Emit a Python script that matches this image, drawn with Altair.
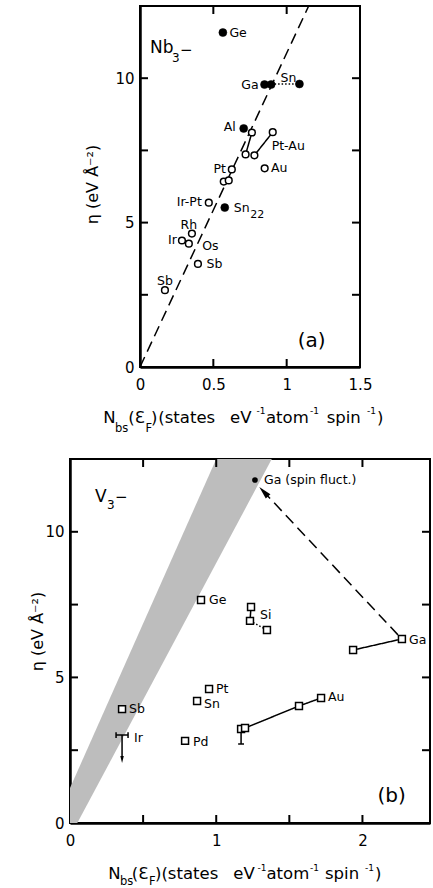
import altair as alt
import pandas as pd

FONT = "DejaVu Sans"
INK = "black"
ONE = pd.DataFrame({"k": [0]})

# ---------------- panel (a): Nb3-X ----------------
a_open_x = [0.763, 0.720, 0.905, 0.780, 0.850, 0.626, 0.571, 0.605, 0.469, 0.354, 0.286, 0.333, 0.395, 0.170]
a_open_y = [8.12, 7.36, 8.13, 7.33, 6.88, 6.84, 6.42, 6.46, 5.69, 4.62, 4.38, 4.27, 3.57, 2.66]
a_fill_x = [0.565, 0.849, 0.894, 1.087, 0.707, 0.578]
a_fill_y = [11.58, 9.78, 9.78, 9.80, 8.26, 5.52]

a_seg_x1 = [0.763, 0.905, 0.894, 0.0]
a_seg_y1 = [8.12, 8.13, 9.80, 0.0]
a_seg_x2 = [0.720, 0.780, 1.087, 1.15]
a_seg_y2 = [7.36, 7.33, 9.80, 12.5]
a_seg_kind = ["solid", "solid", "dotted", "dashed"]

a_lab_text = ["Ge", "Sn", "Pt-Au", "Au", "Os", "Sb", "Sn",
              "Ga", "Al", "Pt", "Ir-Pt", "Ir",
              "Rh", "Sb"]
a_lab_x = [0.596, 0.944, 0.884, 0.880, 0.410, 0.440, 0.626,
           0.822, 0.667, 0.600, 0.435, 0.265,
           0.333, 0.170]
a_lab_y = [11.58, 10.0, 7.64, 6.88, 4.20, 3.57, 5.52,
           9.78, 8.30, 6.85, 5.70, 4.40,
           4.93, 2.99]
a_lab_align = ["left"] * 7 + ["right"] * 5 + ["center"] * 2

a_xticks = [0.5, 1.0]
a_yticks = [2.5, 5.0, 7.5, 10.0]

# ---------------- panel (b): V3-X ----------------
b_sq_x = [0.896, 1.238, 1.231, 1.347, 2.270, 1.936, 0.951, 0.869, 0.356, 0.787, 1.170, 1.197, 1.566, 1.717]
b_sq_y = [7.66, 7.42, 6.94, 6.63, 6.32, 5.94, 4.60, 4.19, 3.91, 2.82, 3.23, 3.26, 4.02, 4.29]
b_fill_x = [1.265]
b_fill_y = [11.78]

b_seg_x1 = [1.238, 1.936, 1.197, 1.566, 0.315, 0.315, 0.397, 0.356, 1.170, 1.150, 1.231, 2.243]
b_seg_y1 = [7.42, 5.94, 3.26, 4.02, 3.02, 2.92, 2.92, 3.02, 3.20, 2.71, 6.94, 6.46]
b_seg_x2 = [1.231, 2.270, 1.566, 1.717, 0.397, 0.315, 0.397, 0.356, 1.170, 1.190, 1.347, 1.330]
b_seg_y2 = [6.94, 6.32, 4.02, 4.29, 3.02, 3.12, 3.12, 2.30, 2.71, 2.71, 6.63, 11.35]
b_seg_kind = ["solid"] * 10 + ["dotted", "dashed"]

# shaded band between the two limiting lines
b_band_y = [0.0, 1.2, 12.5]
b_band_lo = [0.0, 0.0, 1.00]
b_band_hi = [0.05, 0.178, 1.38]

b_lab_text = ["Ga (spin fluct.)", "Ge", "Si", "Ga", "Sb", "Ir", "Pt", "Sn", "Pd", "Au"]
b_lab_x = [1.313, 0.937, 1.286, 2.305, 0.390, 0.424, 0.985, 0.903, 0.828, 1.751]
b_lab_y = [11.78, 7.66, 7.15, 6.30, 3.92, 2.93, 4.60, 4.09, 2.78, 4.32]

b_xticks = [0.5, 1.0, 1.5, 2.0]
b_yticks = [2.5, 5.0, 7.5, 10.0]

A_W, A_H = 220, 361
B_W, B_H = 360, 364
A_ORIGIN = (140.0, 5.0)
B_ORIGIN = (70.0, 458.0)
T = 16.5  # x-title main glyph size


class Panel:
    def __init__(self, xmax, w, h, xvals, title_x, title_y):
        self.w, self.h = w, h
        self.xs = alt.Scale(domain=[0, xmax], nice=False, zero=False)
        self.ys = alt.Scale(domain=[0, 12.5], nice=False, zero=False)
        self.ax = alt.Axis(values=xvals, format=".1~f", title=None, ticks=False, tickSize=0,
                           labelPadding=10, labelFlush=False, labelOverlap=False,
                           labelFont=FONT, labelFontSize=15, labelColor=INK,
                           domainColor=INK, domainWidth=2.5, grid=False)
        self.ay = alt.Axis(values=[0, 5, 10], format=".1~f", title="η (eV Å⁻²)", ticks=False, tickSize=0,
                           labelPadding=6, labelFlush=False, labelOverlap=False,
                           labelFont=FONT, labelFontSize=15, labelColor=INK,
                           domainColor=INK, domainWidth=2.5, grid=False,
                           titleFont=FONT, titleFontSize=16, titleFontWeight="normal",
                           titleColor=INK, titleAngle=270, titleAlign="center",
                           titleBaseline="middle", titleX=title_x, titleY=title_y)

    def X(self, f):
        return alt.X(f, type="quantitative", scale=self.xs, axis=self.ax)

    def Y(self, f):
        return alt.Y(f, type="quantitative", scale=self.ys, axis=self.ay)

    def segments(self, x1, y1, x2, y2, kind):
        df = pd.DataFrame({"x": x1, "y": y1, "x2": x2, "y2": y2, "kind": kind})
        dashes = {"solid": [1, 0], "dotted": [1.5, 2], "dashed": [11, 6]}
        out = []
        for k, d in dashes.items():
            sub = df[df.kind == k]
            if len(sub):
                out.append(alt.Chart(sub).mark_rule(color=INK, strokeWidth=1.5, strokeDash=d).encode(
                    x=self.X("x"), y=self.Y("y"), x2="x2", y2="y2"))
        return out

    def ticks(self, xt, yt):
        dx = pd.DataFrame({"v": xt})
        dy = pd.DataFrame({"v": yt})
        r = dict(color=INK, strokeWidth=2)
        return [
            alt.Chart(dx).mark_rule(**r).encode(x=self.X("v"), y=alt.value(self.h), y2=alt.value(self.h - 8)),
            alt.Chart(dx).mark_rule(**r).encode(x=self.X("v"), y=alt.value(0), y2=alt.value(8)),
            alt.Chart(dy).mark_rule(**r).encode(y=self.Y("v"), x=alt.value(0), x2=alt.value(8)),
            alt.Chart(dy).mark_rule(**r).encode(y=self.Y("v"), x=alt.value(self.w), x2=alt.value(self.w - 8)),
        ]

    def labels(self, text, x, y, align, size=12.5):
        df = pd.DataFrame({"t": text, "x": x, "y": y, "a": align})
        out = []
        for a in ["left", "right", "center"]:
            sub = df[df.a == a]
            if len(sub):
                out.append(alt.Chart(sub).mark_text(font=FONT, fontSize=size, color=INK, align=a,
                                                    baseline="middle", dx={"left": 2, "right": -2, "center": 0}[a]).encode(
                    x=self.X("x"), y=self.Y("y"), text="t:N"))
        return out

    def note(self, txt, x, y, size, align="left"):
        df = pd.DataFrame({"x": [x], "y": [y]})
        return alt.Chart(df).mark_text(text=txt, font=FONT, fontSize=size, color=INK, align=align,
                                       baseline="middle").encode(x=self.X("x"), y=self.Y("y"))


def title_pieces(pieces, origin):
    ox, oy = origin
    return [alt.Chart(ONE).mark_text(text=t, font=FONT, fontSize=s, color=INK, align="left",
                                     baseline="alphabetic").encode(x=alt.value(px - ox), y=alt.value(py - oy))
            for t, px, py, s in pieces]


# ---------- build panel (a) ----------
PA = Panel(1.5, A_W, A_H, [0, 0.5, 1, 1.5], -48, 178)
a_layers = []
a_layers += PA.segments(a_seg_x1, a_seg_y1, a_seg_x2, a_seg_y2, a_seg_kind)
a_layers.append(alt.Chart(pd.DataFrame({"x": a_open_x, "y": a_open_y})).mark_point(
    shape="circle", filled=True, fill="white", stroke=INK, strokeWidth=1.5, size=45, opacity=1).encode(
    x=PA.X("x"), y=PA.Y("y")))
a_layers.append(alt.Chart(pd.DataFrame({"x": a_fill_x, "y": a_fill_y})).mark_point(
    shape="circle", filled=True, fill=INK, stroke=INK, strokeWidth=0.5, size=64, opacity=1).encode(
    x=PA.X("x"), y=PA.Y("y")))
a_layers += PA.labels(a_lab_text, a_lab_x, a_lab_y, a_lab_align)
a_layers.append(PA.note("22", 0.752, 5.28, 11))
a_layers.append(PA.note("Nb", 0.068, 11.04, 17))
a_layers.append(PA.note("3", 0.218, 10.70, 12))
a_layers.append(PA.note("−", 0.272, 10.97, 15))
a_layers.append(PA.note("(a)", 1.17, 0.90, 20, "center"))
a_layers += PA.ticks(a_xticks, a_yticks)
a_layers += title_pieces([
    ("N", 103.3, 421.7, T), ("bs", 115.0, 431.0, 11.5), ("(Ɛ", 128.3, 421.7, T), ("F", 145.5, 431.0, 11.5),
    (")", 151.0, 421.7, T), ("(states", 158.3, 421.7, T), ("eV", 230.0, 421.7, T),
    ("-1", 256.5, 413.0, 9), ("atom", 266.0, 421.7, T), ("-1", 310.0, 413.0, 9),
    ("spin", 326.7, 421.7, T), ("-1", 367.0, 413.0, 9), (")", 377.0, 421.7, T),
], A_ORIGIN)
chart_a = alt.layer(*a_layers).properties(width=A_W, height=A_H)

# ---------- build panel (b) ----------
PB = Panel(2.462, B_W, B_H, [0, 1, 2], -33, 172)
b_layers = []
b_layers.append(alt.Chart(pd.DataFrame({"y": b_band_y, "lo": b_band_lo, "hi": b_band_hi})).mark_area(
    orient="horizontal", color="#bdbdbd", opacity=1).encode(
    y=PB.Y("y"), x=PB.X("lo"), x2="hi"))
b_layers += PB.segments(b_seg_x1, b_seg_y1, b_seg_x2, b_seg_y2, b_seg_kind)
b_layers.append(alt.Chart(pd.DataFrame({"x": [1.33], "y": [11.35]})).mark_point(
    shape="M0,-1L0.42,0.7L-0.42,0.7Z", angle=317, filled=True, color=INK, size=230, opacity=1).encode(
    x=PB.X("x"), y=PB.Y("y")))
b_layers.append(alt.Chart(pd.DataFrame({"x": [0.356], "y": [2.2]})).mark_point(
    shape="M0,-1L0.42,0.7L-0.42,0.7Z", angle=180, filled=True, color=INK, size=70, opacity=1).encode(
    x=PB.X("x"), y=PB.Y("y")))
b_layers.append(alt.Chart(pd.DataFrame({"x": b_sq_x, "y": b_sq_y})).mark_point(
    shape="square", filled=True, fill="white", stroke=INK, strokeWidth=1.5, size=48, opacity=1).encode(
    x=PB.X("x"), y=PB.Y("y")))
b_layers.append(alt.Chart(pd.DataFrame({"x": b_fill_x, "y": b_fill_y})).mark_point(
    shape="circle", filled=True, color=INK, size=32, opacity=1).encode(
    x=PB.X("x"), y=PB.Y("y")))
b_layers += PB.labels(b_lab_text, b_lab_x, b_lab_y, ["left"] * len(b_lab_text))
b_layers.append(PB.note("V", 0.171, 11.20, 17))
b_layers.append(PB.note("3", 0.253, 10.92, 12))
b_layers.append(PB.note("−", 0.308, 11.20, 15))
b_layers.append(PB.note("(b)", 2.20, 0.93, 20, "center"))
b_layers += PB.ticks(b_xticks, b_yticks)
b_layers += title_pieces([
    ("N", 108.3, 878.0, T), ("bs", 120.0, 884.0, 11.5), ("(Ɛ", 131.7, 878.0, T), ("F", 149.0, 884.0, 11.5),
    (")(states", 155.0, 878.0, T), ("eV", 233.3, 878.0, T), ("-1", 257.5, 870.0, 9),
    ("atom", 266.5, 878.0, T), ("-1", 310.0, 870.0, 9), ("spin", 325.0, 878.0, T),
    ("-1", 365.0, 870.0, 9), (")", 375.0, 878.0, T),
], B_ORIGIN)
chart_b = alt.layer(*b_layers).properties(width=B_W, height=B_H)

chart = (
    alt.vconcat(chart_a, chart_b, spacing=92, center=True, bounds="flush")
    .resolve_scale(x="independent", y="independent")
    .properties(padding={"left": 28, "top": 4, "right": 0, "bottom": 0}, background="white")
    .configure_view(stroke=INK, strokeWidth=2)
)

chart.save("out.html", embed_options={"renderer": "svg", "actions": False})
